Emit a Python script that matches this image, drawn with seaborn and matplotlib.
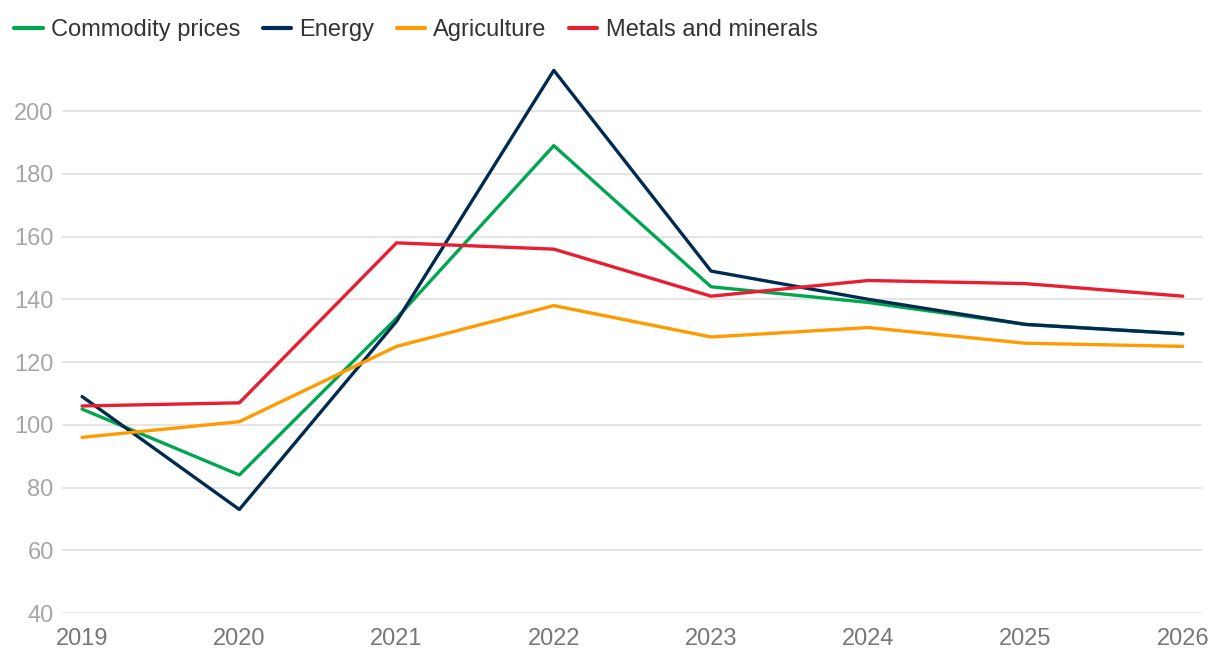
import matplotlib
matplotlib.use("Agg")
import matplotlib.pyplot as plt
import seaborn as sns
import pandas as pd

# === values ===
years = [2019, 2020, 2021, 2022, 2023, 2024, 2025, 2026]
commodity = [105, 84, 134, 189, 144, 139, 132, 129]
energy = [109, 73, 133, 213, 149, 140, 132, 129]
agriculture = [96, 101, 125, 138, 128, 131, 126, 125]
metals = [106, 107, 158, 156, 141, 146, 145, 141]

series_names = ["Commodity prices", "Energy", "Agriculture", "Metals and minerals"]
colors = ["#00A650", "#002B50", "#FF9B00", "#E81E32"]
yticks = [40, 60, 80, 100, 120, 140, 160, 180, 200]

df = pd.DataFrame({"year": years * 4,
                   "value": commodity + energy + agriculture + metals,
                   "series": sum([[n] * len(years) for n in series_names], [])})

sns.set_theme(style="white")
plt.rcParams['font.family'] = ['Liberation Sans', 'DejaVu Sans']

fig = plt.figure(figsize=(12.2, 6.6), dpi=100)
ax = fig.add_axes([0.0508, 0.0712, 0.9344, 0.846])

sns.lineplot(data=df, x="year", y="value", hue="series", hue_order=series_names,
             palette=colors, linewidth=2.4, ax=ax, legend=False)

ax.set_xlim(2019 - 0.128, 2026 + 0.122)
ax.set_ylim(40, 218)
ax.set_yticks(yticks)
ax.set_xticks(years)
ax.grid(axis="y", color="#e3e3e3", linewidth=1.3)
ax.set_axisbelow(True)
for s in ax.spines.values():
    s.set_visible(False)
ax.tick_params(axis="y", length=0, pad=6, labelsize=17, labelcolor="#a6a6a6")
ax.tick_params(axis="x", length=0, pad=11, labelsize=17, labelcolor="#777777")
ax.set_xlabel("")
ax.set_ylabel("")

handles = [plt.Line2D([], [], color=c, linewidth=3) for c in colors]
fig.legend(handles, series_names, loc="upper left", bbox_to_anchor=(0.004, 0.985),
           ncol=4, frameon=False, fontsize=17, handlelength=1.2, handletextpad=0.35,
           columnspacing=0.95, borderaxespad=0.1, borderpad=0.3, labelcolor="#333333")

plt.savefig("out.png", dpi=100)
